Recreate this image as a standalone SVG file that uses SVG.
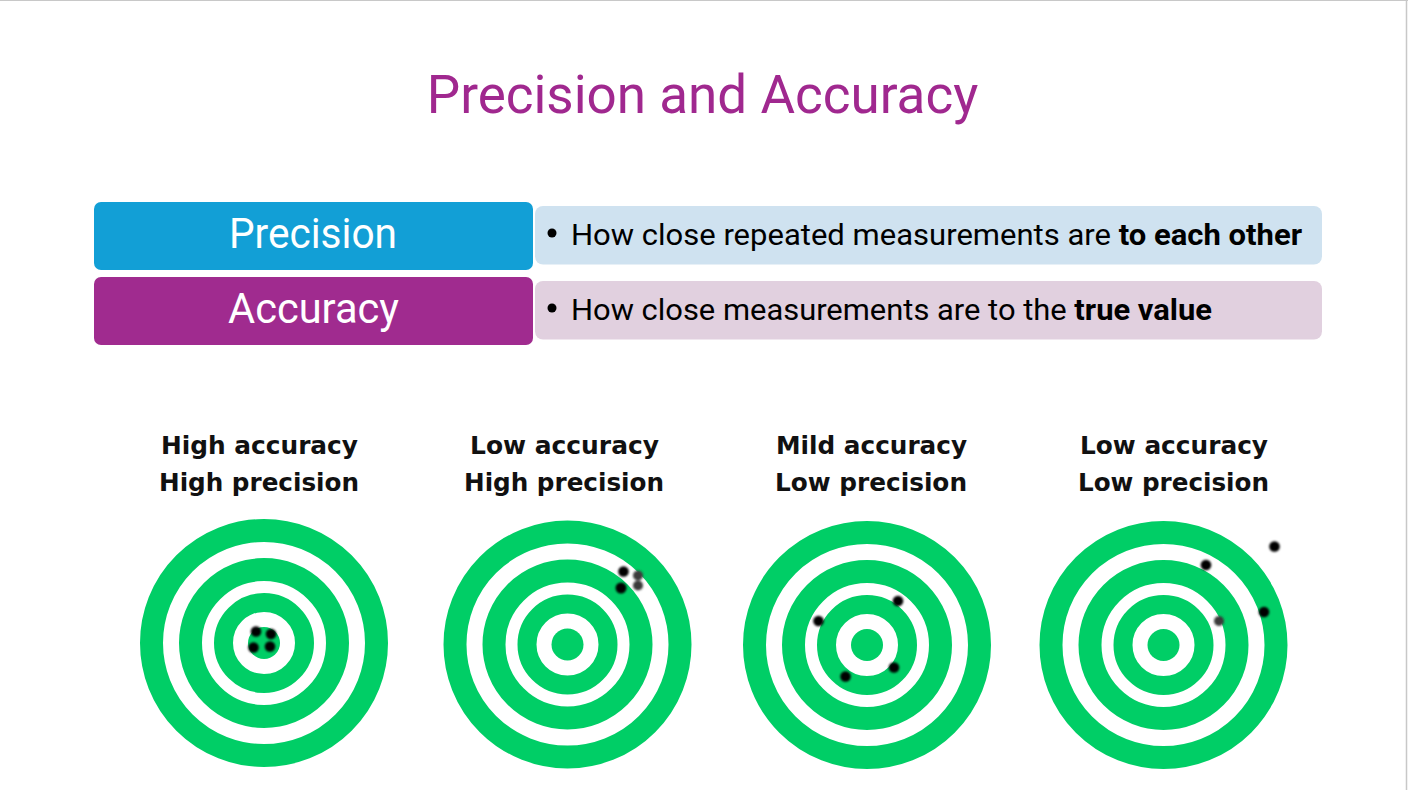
<svg xmlns="http://www.w3.org/2000/svg" width="1408" height="790" viewBox="0 0 1408 790">
  <style>
    .title { font-family: Roboto, "Liberation Sans", sans-serif; font-size: 53px; fill: #A0288F; }
    .head { font-family: Roboto, "Liberation Sans", sans-serif; font-size: 43px; fill: #FFFFFF; text-anchor: middle; }
    .body { font-family: Roboto, "Liberation Sans", sans-serif; font-size: 30px; fill: #000000; }
    .b { font-weight: bold; }
    .lbl { font-family: "DejaVu Sans", "Liberation Sans", sans-serif; font-size: 24px; font-weight: bold; fill: #111111; text-anchor: middle; }
    .ring { fill: none; stroke: #00CE66; }
    .eye { fill: #00CE66; }
    .dot { fill: #000000; }
    .dotg { fill: #3a3a3a; }
  </style>
  <defs>
    <filter id="soft" x="-5%" y="-5%" width="110%" height="110%">
      <feGaussianBlur stdDeviation="0.7"/>
    </filter>
    <filter id="softdot" x="-50%" y="-50%" width="200%" height="200%">
      <feGaussianBlur stdDeviation="0.9"/>
    </filter>
    <g id="target">
      <circle class="ring" r="112.5" stroke-width="23"/>
      <circle class="ring" r="73.5" stroke-width="23"/>
      <circle class="ring" r="40.5" stroke-width="19"/>
      <circle class="eye" r="16"/>
    </g>
  </defs>
  <rect x="0" y="0" width="1408" height="790" fill="#FFFFFF"/>
  <line x1="0" y1="0.5" x2="1408" y2="0.5" stroke="#C8C8C8" stroke-width="1"/>
  <line x1="1406.5" y1="0" x2="1406.5" y2="790" stroke="#C8C8C8" stroke-width="1.5"/>

  <g id="title">
    <text class="title" x="702.5" y="113" text-anchor="middle">Precision and Accuracy</text>
  </g>

  <g id="precision-desc">
    <rect x="535" y="206" width="787" height="58.5" rx="8" fill="#CFE2F0"/>
    <circle cx="552" cy="233" r="4.5" fill="#000000"/>
    <text class="body" x="571" y="245" textLength="731" lengthAdjust="spacingAndGlyphs">How close repeated measurements are <tspan class="b">to each other</tspan></text>
  </g>
  <g id="precision">
    <rect x="94" y="202" width="439" height="68" rx="7" fill="#129FD6"/>
    <text class="head" x="313" y="248" textLength="168" lengthAdjust="spacingAndGlyphs">Precision</text>
  </g>

  <g id="accuracy-desc">
    <rect x="535" y="281" width="787" height="58.5" rx="8" fill="#E1D0DF"/>
    <circle cx="552" cy="308" r="4.5" fill="#000000"/>
    <text class="body" x="571" y="320" textLength="641" lengthAdjust="spacingAndGlyphs">How close measurements are to the <tspan class="b">true value</tspan></text>
  </g>
  <g id="accuracy">
    <rect x="94" y="277" width="439" height="68" rx="7" fill="#A02B8F"/>
    <text class="head" x="313.5" y="323" textLength="171" lengthAdjust="spacingAndGlyphs">Accuracy</text>
  </g>

  <g id="target-1">
    <text class="lbl" x="259.5" y="454" textLength="197" lengthAdjust="spacingAndGlyphs">High accuracy</text>
    <text class="lbl" x="259" y="491" textLength="200" lengthAdjust="spacingAndGlyphs">High precision</text>
    <use href="#target" x="264" y="643" filter="url(#soft)"/>
    <g filter="url(#softdot)">
      <circle class="dot" cx="256" cy="631.5" r="5.3"/>
      <circle class="dot" cx="271" cy="634" r="5.3"/>
      <circle class="dot" cx="253.5" cy="647.5" r="5.3"/>
      <circle class="dot" cx="270" cy="646.5" r="5.3"/>
    </g>
  </g>

  <g id="target-2">
    <text class="lbl" x="564.5" y="454" textLength="189" lengthAdjust="spacingAndGlyphs">Low accuracy</text>
    <text class="lbl" x="564" y="491" textLength="200" lengthAdjust="spacingAndGlyphs">High precision</text>
    <use href="#target" x="567.5" y="644.5" filter="url(#soft)"/>
    <g filter="url(#softdot)">
      <circle class="dot" cx="623.5" cy="571.5" r="5.3"/>
      <circle class="dotg" cx="638" cy="575.5" r="5"/>
      <circle class="dot" cx="621" cy="588" r="5.5"/>
      <circle class="dotg" cx="638" cy="585.5" r="5"/>
    </g>
  </g>

  <g id="target-3">
    <text class="lbl" x="871.5" y="454" textLength="191" lengthAdjust="spacingAndGlyphs">Mild accuracy</text>
    <text class="lbl" x="871" y="491" textLength="192" lengthAdjust="spacingAndGlyphs">Low precision</text>
    <use href="#target" x="867" y="645" filter="url(#soft)"/>
    <g filter="url(#softdot)">
      <circle class="dot" cx="898" cy="601" r="5.3"/>
      <circle class="dot" cx="818.5" cy="621" r="5.3"/>
      <circle class="dot" cx="894" cy="667.5" r="5.3"/>
      <circle class="dot" cx="845.5" cy="676.5" r="5.3"/>
    </g>
  </g>

  <g id="target-4">
    <text class="lbl" x="1174" y="454" textLength="188" lengthAdjust="spacingAndGlyphs">Low accuracy</text>
    <text class="lbl" x="1173.5" y="491" textLength="191" lengthAdjust="spacingAndGlyphs">Low precision</text>
    <use href="#target" x="1163.5" y="645" filter="url(#soft)"/>
    <g filter="url(#softdot)">
      <circle class="dot" cx="1274.5" cy="546.5" r="5.3"/>
      <circle class="dot" cx="1206" cy="565" r="5.3"/>
      <circle class="dot" cx="1264" cy="612" r="5.3"/>
      <circle class="dotg" cx="1219" cy="621" r="5"/>
    </g>
  </g>

  <g id="connectors"/>
</svg>
